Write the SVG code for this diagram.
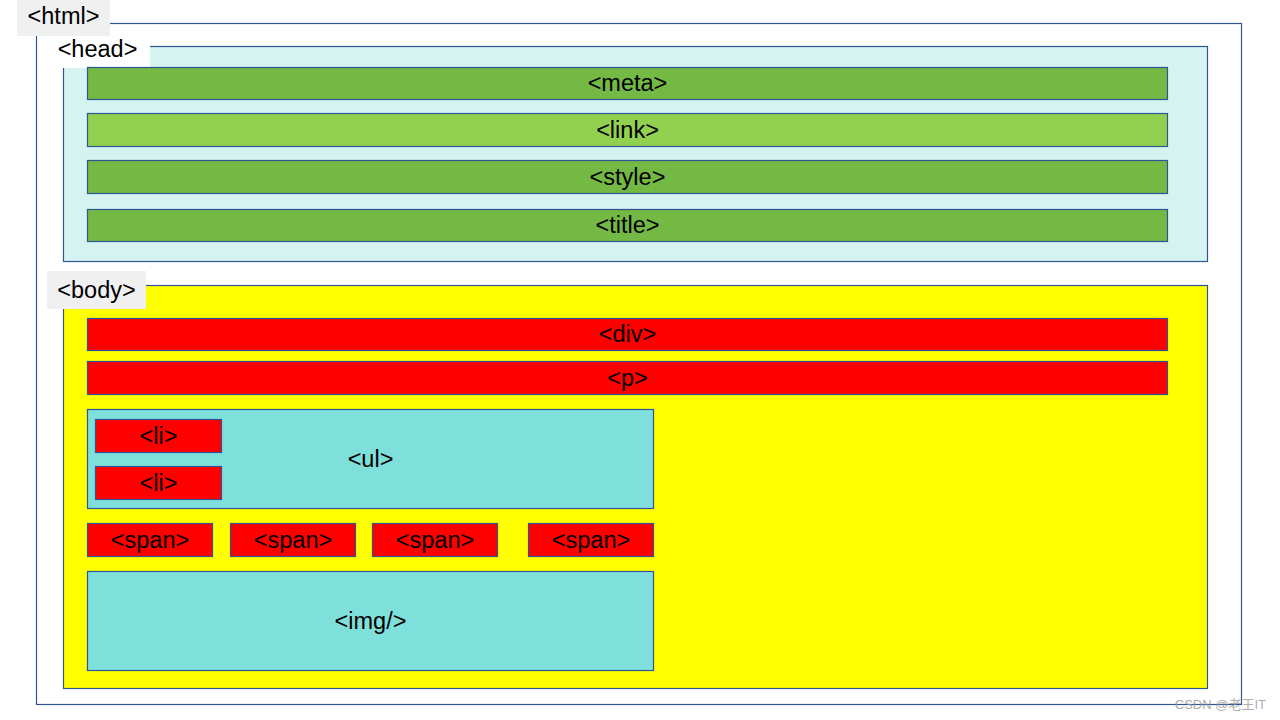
<svg xmlns="http://www.w3.org/2000/svg" width="1280" height="720" viewBox="0 0 1280 720">
<style>
.b{stroke:#2f5597;stroke-width:1.2}
.t{font-family:"Liberation Sans",Arial,sans-serif;font-size:23.5px;fill:#000;text-anchor:middle;dominant-baseline:central}
.g{fill:#73b943}
.lg{fill:#92d14f}
.r{fill:#ff0000}
.c{fill:#7fe0db}
</style>
<rect width="1280" height="720" fill="#fff"/>
<g id="html">
<rect class="b" x="36.5" y="23.5" width="1205" height="681" fill="#fff"/>
<rect x="17" y="0" width="93" height="36" fill="#f0f0f0"/>
<text class="t" x="63.5" y="16">&lt;html&gt;</text>
</g>
<g id="head">
<rect class="b" x="63.5" y="46.5" width="1144" height="215" fill="#d5f3f1"/>
<rect x="50" y="37" width="100" height="31" fill="#fff"/>
<text class="t" x="97.5" y="49">&lt;head&gt;</text>
</g>
<g id="meta"><rect class="b g" x="87.5" y="67.5" width="1080" height="32"/><text class="t" x="627.5" y="83">&lt;meta&gt;</text></g>
<g id="link"><rect class="b lg" x="87.5" y="113.5" width="1080" height="33"/><text class="t" x="627.5" y="129.5">&lt;link&gt;</text></g>
<g id="style"><rect class="b g" x="87.5" y="160.5" width="1080" height="33"/><text class="t" x="627.5" y="176.5">&lt;style&gt;</text></g>
<g id="title"><rect class="b g" x="87.5" y="209.5" width="1080" height="32"/><text class="t" x="627.5" y="225">&lt;title&gt;</text></g>
<g id="body">
<rect class="b" x="63.5" y="285.5" width="1144" height="403" fill="#ffff00"/>
<rect x="47" y="271" width="99" height="38" fill="#f0f0f0"/>
<text class="t" x="96.5" y="289.5">&lt;body&gt;</text>
</g>
<g id="div"><rect class="b r" x="87.5" y="318.5" width="1080" height="32"/><text class="t" x="627.5" y="334">&lt;div&gt;</text></g>
<g id="p"><rect class="b r" x="87.5" y="361.5" width="1080" height="33"/><text class="t" x="627.5" y="377.5">&lt;p&gt;</text></g>
<g id="ul"><rect class="b c" x="87.5" y="409.5" width="566" height="99"/><text class="t" x="370.5" y="458.5">&lt;ul&gt;</text></g>
<g id="li1"><rect class="b r" x="95.5" y="419.5" width="126" height="33"/><text class="t" x="158.5" y="435.5">&lt;li&gt;</text></g>
<g id="li2"><rect class="b r" x="95.5" y="466.5" width="126" height="33"/><text class="t" x="158.5" y="482.5">&lt;li&gt;</text></g>
<g id="span1"><rect class="b r" x="87.5" y="523.5" width="125" height="33"/><text class="t" x="150" y="539.5">&lt;span&gt;</text></g>
<g id="span2"><rect class="b r" x="230.5" y="523.5" width="125" height="33"/><text class="t" x="293" y="539.5">&lt;span&gt;</text></g>
<g id="span3"><rect class="b r" x="372.5" y="523.5" width="125" height="33"/><text class="t" x="435" y="539.5">&lt;span&gt;</text></g>
<g id="span4"><rect class="b r" x="528.5" y="523.5" width="125" height="33"/><text class="t" x="591" y="539.5">&lt;span&gt;</text></g>
<g id="img"><rect class="b c" x="87.5" y="571.5" width="566" height="99"/><text class="t" x="370.5" y="620.5">&lt;img/&gt;</text></g>
<g id="connectors"></g>
<text x="1266" y="709" font-family="'Liberation Sans','Noto Sans CJK SC',sans-serif" font-size="13" fill="#999" text-anchor="end" opacity="0.8">CSDN @老王IT</text>
</svg>
